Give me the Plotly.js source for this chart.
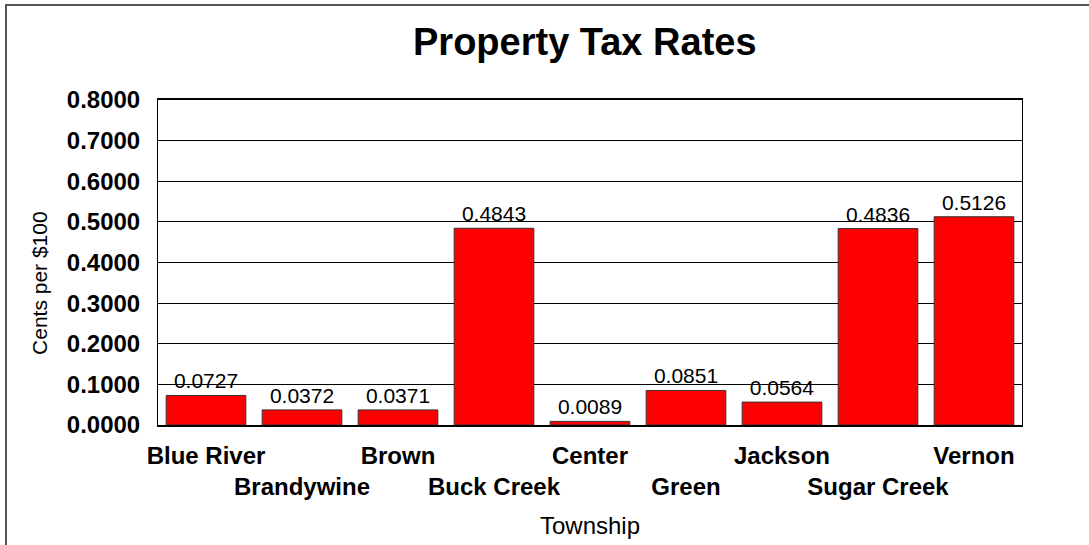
<!DOCTYPE html>
<html>
<head>
<meta charset="utf-8">
<script src="https://cdn.plot.ly/plotly-3.0.1.min.js"></script>
<style>
  html, body { margin: 0; padding: 0; background: #fff; }
  #chart { width: 1089px; height: 545px; position: absolute; left: 0; top: 0; }
  #frame { position: absolute; left: 5px; top: 4px; width: 1100px; height: 600px;
           border-left: 2px solid #555; border-top: 2px solid #555; pointer-events: none; }
</style>
</head>
<body>
<div id="chart"></div>
<div id="frame"></div>
<script>
const townships = ["Blue River", "Brandywine", "Brown", "Buck Creek", "Center", "Green", "Jackson", "Sugar Creek", "Vernon"];
const taxRates = [0.0727, 0.0372, 0.0371, 0.4843, 0.0089, 0.0851, 0.0564, 0.4836, 0.5126];
const yTickVals = [0, 0.1, 0.2, 0.3, 0.4, 0.5, 0.6, 0.7, 0.8];

const tickText = townships.map((t, i) => (i % 2 === 1 ? "<br>" + t : t));
const FONT = "Liberation Sans, Arial, sans-serif";

const trace = {
  type: "bar",
  x: townships,
  y: taxRates,
  text: taxRates.map(v => v.toFixed(4)),
  textposition: "outside",
  textfont: { family: FONT, size: 21, color: "#000" },
  cliponaxis: false,
  marker: { color: "#FF0000", line: { color: "#333", width: 1 } },
  hoverinfo: "x+y"
};

const layout = {
  width: 1089,
  height: 545,
  margin: { l: 158, r: 67, t: 100, b: 120 },
  paper_bgcolor: "#fff",
  plot_bgcolor: "#fff",
  bargap: 0.17,
  showlegend: false,
  font: { family: FONT, color: "#000" },
  title: {
    text: "Property Tax Rates",
    font: { family: FONT, size: 38, weight: "bold", color: "#000" },
    x: 0.537, xanchor: "center",
    y: 0.923, yanchor: "middle"
  },
  xaxis: {
    type: "category",
    tickvals: townships,
    ticktext: tickText,
    tickfont: { family: FONT, size: 24, weight: "bold", color: "#000" },
    tickangle: 0,
    ticks: "",
    ticklabelstandoff: 8,
    showline: true, linecolor: "#000", linewidth: 2, mirror: true,
    showgrid: false,
    automargin: false,
    title: { text: "Township", font: { family: FONT, size: 24, color: "#000" }, standoff: 18 }
  },
  yaxis: {
    range: [0, 0.8],
    tickvals: yTickVals,
    tickformat: ".4f",
    tickfont: { family: FONT, size: 24, weight: "bold", color: "#000" },
    ticks: "",
    ticklabelstandoff: 12,
    showline: true, linecolor: "#000", linewidth: 1, mirror: true,
    showgrid: true, gridcolor: "#000", gridwidth: 1,
    zeroline: false,
    automargin: false
  },
  annotations: [{
    text: "Cents per $100",
    xref: "paper", yref: "paper",
    x: -0.1366, y: 0.437,
    xanchor: "center", yanchor: "middle",
    textangle: -90,
    showarrow: false,
    font: { family: FONT, size: 21, color: "#000" }
  }]
};

Plotly.newPlot("chart", [trace], layout, { displayModeBar: false, staticPlot: true });
</script>
</body>
</html>
